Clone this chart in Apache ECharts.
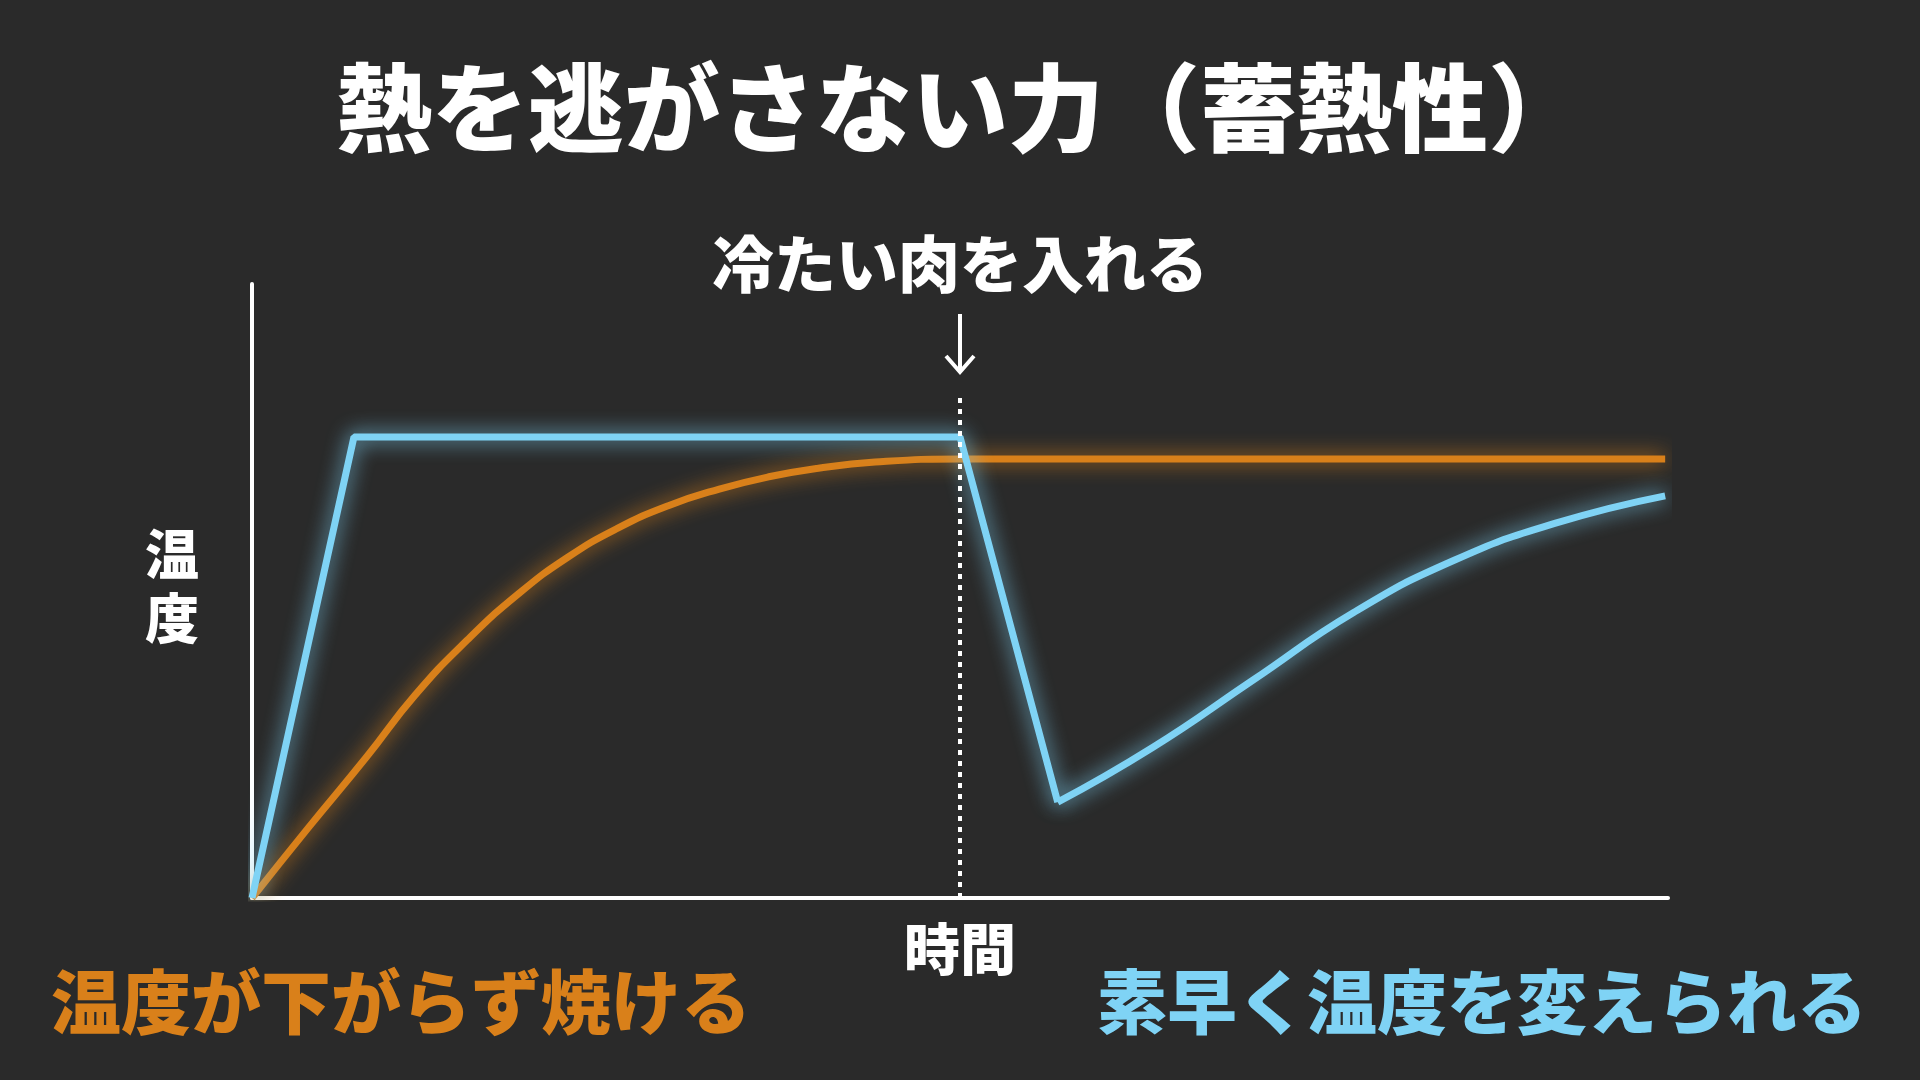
<!DOCTYPE html>
<html><head><meta charset="utf-8">
<script src="https://cdn.jsdelivr.net/npm/echarts@6/dist/echarts.min.js"></script>
<style>html,body{margin:0;background:#2a2a2a}#c{width:1920px;height:1080px}</style>
</head><body><div id="c"></div>
<script>
// 時間(0-100) と 温度(0-100) で読み取った値
var blueRise = [[0,0],[7.2,75.1],[50,75.1],[56.9,15.6]];
var blueRecover = [[56.9,15.6],[63.6,24.5],[70.7,35.5],[77.8,46.5],[84.9,55],[92,61],[99.8,65.5]];
var orangeData = [[0,0],[4,11.5],[8.1,23],[11.5,33],[15.2,42],[18.8,49.5],[22.3,55.5],[25.8,60.2],[29.4,63.9],[33,66.6],[36.5,68.6],[40,70],[44,71],[50,71.5],[99.8,71.5]];
var dropX = 50;

var font = '"Noto Sans CJK JP", sans-serif';
var chart = echarts.init(document.getElementById('c'));
function glow(color){
  return {color: color, width: 7, shadowColor: color, shadowBlur: 20};
}
chart.setOption({
  backgroundColor: '#2a2a2a',
  animation: false,
  title: [
    {text: '熱を逃がさない力（蓄熱性）', left: 'center', top: 60, padding: [0, 0, 0, 20],
     textStyle: {color: '#fff', fontSize: 96, fontWeight: 900, fontFamily: font}},
    {text: '冷たい肉を入れる', left: 'center', top: 228,
     textStyle: {color: '#fff', fontSize: 62, fontWeight: 900, fontFamily: font}},
    {text: '時間', left: 'center', top: 916,
     textStyle: {color: '#fff', fontSize: 56, fontWeight: 900, fontFamily: font}},
    {text: '温度が下がらず焼ける', left: 46, top: 962,
     textStyle: {color: '#d9801a', fontSize: 70, fontWeight: 900, fontFamily: font}},
    {text: '素早く温度を変えられる', right: 48, top: 962,
     textStyle: {color: '#7fd3f5', fontSize: 70, fontWeight: 900, fontFamily: font}}
  ],
  graphic: [
    {type: 'text', left: 145, top: 522,
     style: {text: '温\n度', fill: '#fff', font: '900 54px ' + font, lineHeight: 64}},
    {type: 'line', shape: {x1: 960, y1: 314, x2: 960, y2: 372}, style: {stroke: '#fff', lineWidth: 4}},
    {type: 'polyline', shape: {points: [[946, 356], [960, 372], [974, 356]]}, style: {stroke: '#fff', lineWidth: 4, fill: null}}
  ],
  grid: {left: 252, right: 252, top: 284, bottom: 182},
  xAxis: {type: 'value', min: 0, max: 100, axisLine: {lineStyle: {color: '#fff', width: 4}},
          axisTick: {show: false}, axisLabel: {show: false}, splitLine: {show: false}},
  yAxis: {type: 'value', min: 0, max: 100, axisLine: {show: true, lineStyle: {color: '#fff', width: 4}},
          axisTick: {show: false}, axisLabel: {show: false}, splitLine: {show: false}},
  series: [
    {type: 'line', data: orangeData, smooth: 0.5, symbol: 'none', lineStyle: glow('#d9801a'), z: 2},
    {type: 'line', data: blueRise, smooth: false, symbol: 'none', lineStyle: glow('#7fd3f5'), z: 3,
     markLine: {symbol: 'none', silent: true, label: {show: false},
       lineStyle: {color: '#fff', type: [5, 6], width: 4},
       data: [[{coord: [dropX, 0]}, {coord: [dropX, 82]}]]}},
    {type: 'line', data: blueRecover, smooth: 0.5, symbol: 'none', lineStyle: glow('#7fd3f5'), z: 3}
  ]
});
</script></body></html>
